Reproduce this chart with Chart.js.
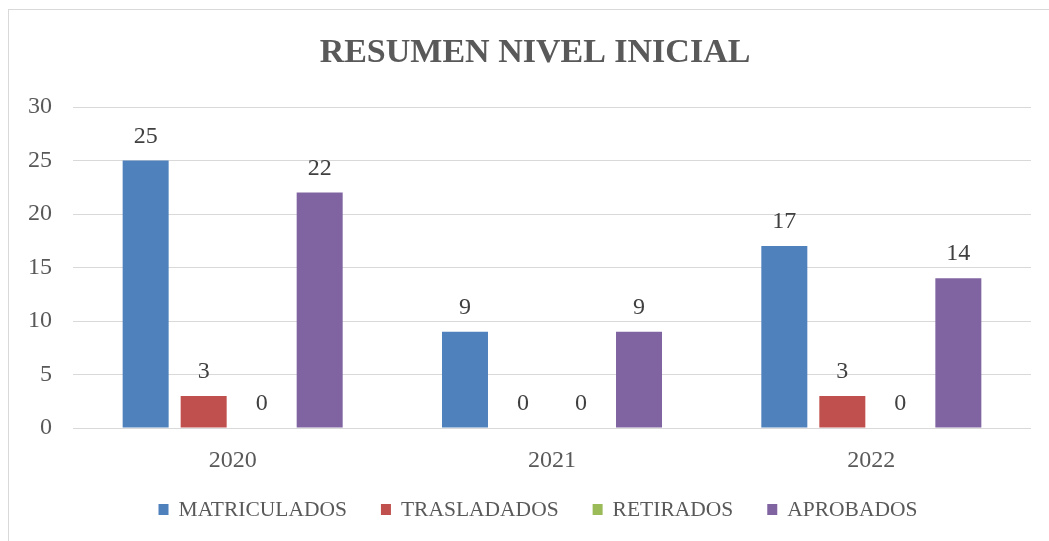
<!DOCTYPE html>
<html>
<head>
<meta charset="utf-8">
<script src="https://cdn.jsdelivr.net/npm/chart.js@4.4.1/dist/chart.umd.min.js"></script>
<style>
  html, body { margin: 0; padding: 0; background: #fff; overflow: hidden; }
  #frame { position: absolute; left: 8px; top: 9px; width: 1100px; height: 600px;
           border-left: 1px solid #d9d9d9; border-top: 1px solid #d9d9d9; }
  #wrap { position: absolute; left: 0; top: 0; width: 1049px; height: 541px; }
</style>
</head>
<body>
<div id="frame"></div>
<div id="wrap"><canvas id="c" width="1049" height="541"></canvas></div>
<script>
const titleText = 'RESUMEN NIVEL INICIAL';
const categories = ['2020', '2021', '2022'];
const matriculados = [25, 9, 17];
const trasladados = [3, 0, 3];
const retirados = [0, 0, 0];
const aprobados = [22, 9, 14];
const yTicks = [0, 5, 10, 15, 20, 25, 30];

const seriesNames = ['MATRICULADOS', 'TRASLADADOS', 'RETIRADOS', 'APROBADOS'];
const seriesColors = ['#4F81BD', '#C0504D', '#9BBB59', '#8064A2'];
const seriesData = [matriculados, trasladados, retirados, aprobados];

const FONT = '"Liberation Serif", "DejaVu Serif", serif';

const labelsPlugin = {
  id: 'valueLabels',
  afterDatasetsDraw(chart) {
    const ctx = chart.ctx;
    ctx.save();
    ctx.font = '24px ' + FONT;
    ctx.fillStyle = '#404040';
    ctx.textAlign = 'center';
    ctx.textBaseline = 'middle';
    chart.data.datasets.forEach((ds, i) => {
      const meta = chart.getDatasetMeta(i);
      meta.data.forEach((bar, j) => {
        ctx.fillText(String(ds.data[j]), bar.x, bar.y - 24);
      });
    });
    ctx.restore();
  }
};

const titleLegendPlugin = {
  id: 'titleLegend',
  afterDraw(chart) {
    const ctx = chart.ctx;
    ctx.save();
    // title
    ctx.font = 'bold 34px ' + FONT;
    ctx.fillStyle = '#595959';
    ctx.textAlign = 'center';
    ctx.textBaseline = 'middle';
    ctx.fillText(titleText, 535, 53);
    // legend
    ctx.font = '21.5px ' + FONT;
    const box = 10, gapText = 10, gapItem = 34;
    const items = chart.data.datasets.map(ds => ({ label: ds.label, color: ds.backgroundColor, w: ctx.measureText(ds.label).width }));
    let total = 0;
    items.forEach((it, k) => { total += box + gapText + it.w + (k < items.length - 1 ? gapItem : 0); });
    let x = 538 - total / 2;
    const cy = 510;
    ctx.textAlign = 'left';
    items.forEach(it => {
      ctx.fillStyle = it.color;
      ctx.fillRect(x, cy - box / 2 - 1, box, box + 1);
      x += box + gapText;
      ctx.fillStyle = '#595959';
      ctx.fillText(it.label, x, cy);
      x += it.w + gapItem;
    });
    ctx.restore();
  }
};

new Chart(document.getElementById('c'), {
  type: 'bar',
  data: {
    labels: categories,
    datasets: seriesNames.map((n, i) => ({
      label: n,
      data: seriesData[i],
      backgroundColor: seriesColors[i],
      borderWidth: 0,
      categoryPercentage: 0.7266,
      barPercentage: 0.793
    }))
  },
  options: {
    responsive: false,
    animation: false,
    devicePixelRatio: 1,
    layout: { padding: { left: 0, top: 107, right: 18, bottom: 63 } },
    plugins: {
      legend: { display: false },
      title: { display: false },
      tooltip: { enabled: false }
    },
    scales: {
      x: {
        grid: { display: false, drawTicks: false },
        border: { display: false },
        ticks: { font: { family: FONT, size: 24 }, color: '#595959', padding: 18 },
        afterFit(scale) { scale.height = 50; }
      },
      y: {
        min: 0, max: 30,
        afterBuildTicks(scale) { scale.ticks = yTicks.map(v => ({ value: v })); },
        grid: { color: '#d9d9d9', lineWidth: 1, drawTicks: false },
        border: { display: false },
        ticks: { font: { family: FONT, size: 24 }, color: '#595959', padding: 21 },
        afterFit(scale) { scale.width = 73; }
      }
    }
  },
  plugins: [labelsPlugin, titleLegendPlugin]
});
</script>
</body>
</html>
